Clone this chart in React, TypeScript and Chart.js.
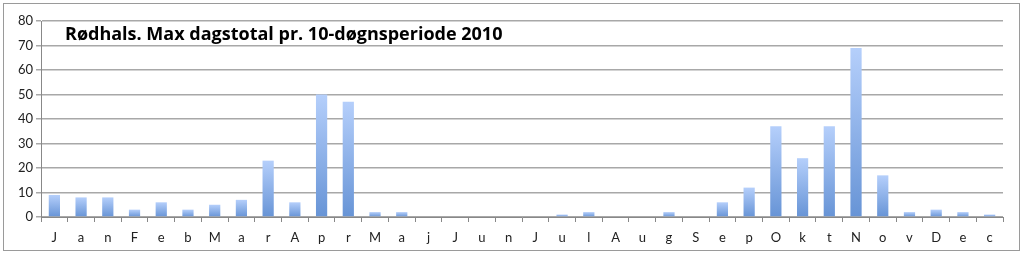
import React, { useEffect, useRef } from "react";
import { Chart, registerables } from "chart.js";

Chart.register(...registerables);

const categories = [
  "J", "a", "n", "F", "e", "b", "M", "a", "r", "A", "p", "r",
  "M", "a", "j", "J", "u", "n", "J", "u", "l", "A", "u", "g",
  "S", "e", "p", "O", "k", "t", "N", "o", "v", "D", "e", "c",
];
const maxDayTotal = [
  9, 8, 8, 3, 6, 3, 5, 7, 23, 6, 50, 47,
  2, 2, 0, 0, 0, 0, 0, 1, 2, 0, 0, 2,
  0, 6, 12, 37, 24, 37, 69, 17, 2, 3, 2, 1,
];
const yTicks = [0, 10, 20, 30, 40, 50, 60, 70, 80];
const titleText = "Rødhals. Max dagstotal pr. 10-døgnsperiode 2010";

const FONT = "Lato, 'Open Sans', sans-serif";
const TITLE_FONT = "'Open Sans', Lato, sans-serif";

export default function App() {
  const ref = useRef<HTMLCanvasElement | null>(null);
  useEffect(() => {
    const canvas = ref.current;
    if (!canvas) return;
    const frame = {
      id: "frame",
      beforeDraw(chart: any) {
        const c = chart.ctx;
        c.save();
        c.fillStyle = "#ffffff";
        c.fillRect(0, 0, chart.width, chart.height);
        c.strokeStyle = "#9a9a9a";
        c.lineWidth = 1;
        c.strokeRect(3.5, 3.5, 1016, 247);
        c.restore();
      },
      afterDatasetsDraw(chart: any) {
        const c = chart.ctx;
        const a = chart.chartArea;
        c.save();
        c.font = `bold 18px ${TITLE_FONT}`;
        c.fillStyle = "#000000";
        c.textBaseline = "alphabetic";
        c.fillText(titleText, a.left + 24, a.top + 19);
        c.restore();
      },
    };
    const chart = new Chart(canvas, {
      type: "bar",
      data: {
        labels: categories,
        datasets: [
          {
            data: maxDayTotal,
            barPercentage: 0.42,
            categoryPercentage: 1,
            backgroundColor: (ctx: any) => {
              const ch = ctx.chart;
              const ys = ch.scales.y;
              if (!ys || ctx.raw == null) return "#8cb0ee";
              const top = ys.getPixelForValue(ctx.raw);
              const base = ys.getPixelForValue(0);
              if (!isFinite(top) || !isFinite(base) || base - top < 1) return "#8cb0ee";
              const g = ch.ctx.createLinearGradient(0, top, 0, base);
              g.addColorStop(0, "#b5cffb");
              g.addColorStop(1, "#6794d6");
              return g;
            },
            borderWidth: 0,
          },
        ],
      },
      options: {
        animation: false,
        responsive: false,
        maintainAspectRatio: false,
        layout: { padding: { left: 0, right: 21, top: 21, bottom: 0 } },
        plugins: {
          legend: { display: false },
          tooltip: { enabled: false },
          title: { display: false },
        },
        scales: {
          x: {
            offset: true,
            grid: {
              offset: true,
              drawOnChartArea: false,
              drawTicks: true,
              tickLength: 5,
              color: "#888888",
            },
            border: { color: "#888888", width: 1 },
            ticks: {
              color: "#222222",
              font: { family: FONT, size: 13 },
              padding: 8,
              autoSkip: false,
              maxRotation: 0,
            },
            afterFit: (s: any) => {
              s.height = 39;
            },
          },
          y: {
            min: 0,
            max: 80,
            afterBuildTicks: (s: any) => {
              s.ticks = yTicks.map((v) => ({ value: v }));
            },
            grid: {
              color: "#a8a8a8",
              lineWidth: 1.5,
              tickLength: 5,
              drawTicks: true,
            },
            border: { color: "#888888", width: 1 },
            ticks: {
              color: "#222222",
              font: { family: FONT, size: 13 },
              padding: 3,
            },
            afterFit: (s: any) => {
              s.width = 41;
            },
          },
        },
      },
      plugins: [frame],
    } as any);
    return () => chart.destroy();
  }, []);
  return (
    <div style={{ position: "absolute", left: 0, top: 0, width: 1024, height: 256 }}>
      <canvas ref={ref} width={1024} height={256} style={{ width: 1024, height: 256 }} />
    </div>
  );
}
